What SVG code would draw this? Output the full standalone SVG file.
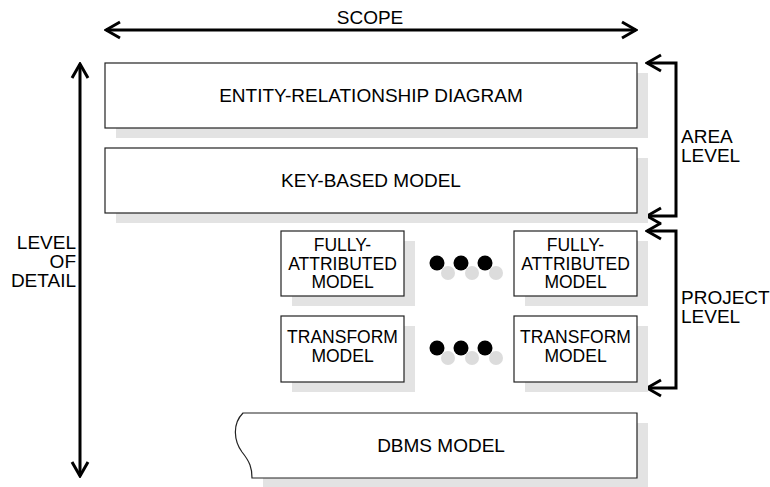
<svg xmlns="http://www.w3.org/2000/svg" width="770" height="487" viewBox="0 0 770 487">
<style>
text{font-family:"Liberation Sans",Arial,sans-serif;font-size:19px;fill:#000}
.c{text-anchor:middle}
.r{text-anchor:end}
.s{font-size:17.5px}
.box{fill:#fff;stroke:#222;stroke-width:1.2}
.sh{fill:#e3e3e3}
.ln{fill:none;stroke:#000;stroke-width:3}
.dk{fill:#000}
.dl{fill:#dcdcdc}
</style>
<defs>
<marker id="ah" viewBox="-18 -11 20 22" refX="0" refY="0" markerWidth="20" markerHeight="22" markerUnits="userSpaceOnUse" orient="auto-start-reverse">
<path d="M-14,-8 L0,0 L-14,8" fill="none" stroke="#000" stroke-width="3"/>
</marker>
</defs>
<rect width="770" height="487" fill="#fff"/>

<g id="connectors">
<path class="ln" d="M106,30 H636" marker-start="url(#ah)" marker-end="url(#ah)"/>
<path class="ln" d="M80,64 V476" marker-start="url(#ah)" marker-end="url(#ah)"/>
<path class="ln" d="M647,63 H676 V216 H647" marker-start="url(#ah)" marker-end="url(#ah)"/>
<path class="ln" d="M647,231 H676 V388 H647" marker-start="url(#ah)" marker-end="url(#ah)"/>
</g>

<g id="labels">
<text class="c" x="370" y="24">SCOPE</text>
<text class="r" x="76" y="249">LEVEL</text>
<text class="r" x="76" y="268">OF</text>
<text class="r" x="76" y="287">DETAIL</text>
<text x="681" y="143">AREA</text>
<text x="681" y="162">LEVEL</text>
<text x="681" y="304">PROJECT</text>
<text x="681" y="323">LEVEL</text>
</g>

<g id="erd">
<rect class="sh" x="116" y="73" width="532" height="65"/>
<rect class="box" x="105" y="63" width="532" height="65"/>
<text class="c" x="371" y="102">ENTITY-RELATIONSHIP DIAGRAM</text>
</g>

<g id="keybased">
<rect class="sh" x="116" y="158" width="532" height="65"/>
<rect class="box" x="105" y="148" width="532" height="65"/>
<text class="c" x="371" y="187">KEY-BASED MODEL</text>
</g>

<g id="fa1">
<rect class="sh" x="292" y="241" width="123" height="65"/>
<rect class="box" x="281" y="231" width="123" height="65"/>
<text class="c s" x="342.5" y="251">FULLY-</text>
<text class="c s" x="342.5" y="269.5">ATTRIBUTED</text>
<text class="c s" x="342.5" y="288">MODEL</text>
</g>

<g id="fa-dots">
<circle class="dl" cx="448" cy="273" r="7"/>
<circle class="dl" cx="472" cy="273" r="7"/>
<circle class="dl" cx="496" cy="273" r="7"/>
<circle class="dk" cx="437" cy="263" r="7.5"/>
<circle class="dk" cx="461" cy="263" r="7.5"/>
<circle class="dk" cx="485" cy="263" r="7.5"/>
</g>

<g id="fa2">
<rect class="sh" x="525" y="241" width="123" height="65"/>
<rect class="box" x="514" y="231" width="123" height="65"/>
<text class="c s" x="575.5" y="251">FULLY-</text>
<text class="c s" x="575.5" y="269.5">ATTRIBUTED</text>
<text class="c s" x="575.5" y="288">MODEL</text>
</g>

<g id="tm1">
<rect class="sh" x="292" y="326" width="123" height="66"/>
<rect class="box" x="281" y="316" width="123" height="66"/>
<text class="c s" x="342.5" y="343">TRANSFORM</text>
<text class="c s" x="342.5" y="362">MODEL</text>
</g>

<g id="tm-dots">
<circle class="dl" cx="448" cy="358" r="7"/>
<circle class="dl" cx="472" cy="358" r="7"/>
<circle class="dl" cx="496" cy="358" r="7"/>
<circle class="dk" cx="437" cy="348" r="7.5"/>
<circle class="dk" cx="461" cy="348" r="7.5"/>
<circle class="dk" cx="485" cy="348" r="7.5"/>
</g>

<g id="tm2">
<rect class="sh" x="525" y="326" width="123" height="66"/>
<rect class="box" x="514" y="316" width="123" height="66"/>
<text class="c s" x="575.5" y="343">TRANSFORM</text>
<text class="c s" x="575.5" y="362">MODEL</text>
</g>

<g id="dbms">
<path class="sh" d="M263,423 H648 V487 H263 Z"/>
<path class="box" d="M243,413 H637 V478 H252 C252,468 250,462 242,452 C234,441 232,424 243,413 Z"/>
<text class="c" x="441" y="452">DBMS MODEL</text>
</g>
</svg>
